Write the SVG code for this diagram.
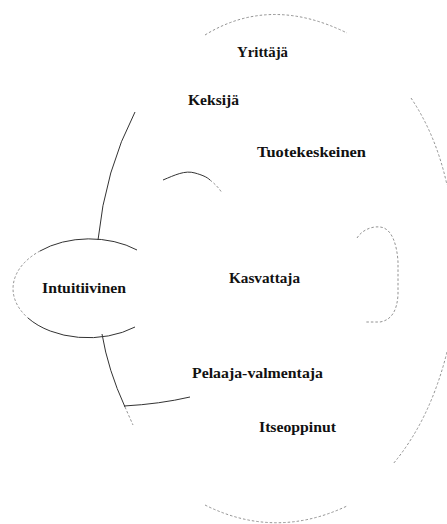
<svg xmlns="http://www.w3.org/2000/svg" width="447" height="524" viewBox="0 0 447 524">
<style>
.lbl{font-family:"Liberation Serif","Times New Roman",serif;font-weight:bold;font-size:15.5px;fill:#111}
.solid{fill:none;stroke:#333;stroke-width:1}
.faint{fill:none;stroke:#777;stroke-width:0.8;stroke-dasharray:2.5 2}
</style>
<rect width="447" height="524" fill="#fff"/>
<g id="outer">
<path class="faint" d="M205,35 Q270,-5 347,33"/>
<path class="faint" d="M411,98 Q436,135 447,185"/>
<path class="faint" d="M447,352 Q430,420 393,464"/>
<path class="faint" d="M205,505 Q275,540 347,506"/>
<path class="solid" d="M135,112 Q105,170 98,240"/>
<path class="solid" d="M102,334 Q108,370 125,407"/>
<path class="faint" d="M125,407 L133,425"/>
</g>
<g id="intuitiivinen">
<path class="solid" d="M137,250 A75,49 0 0 0 40,251"/>
<path class="faint" d="M40,251 A75,49 0 0 0 28,318"/>
<path class="solid" d="M28,318 A75,49 0 0 0 135,327"/>
<text class="lbl" x="42" y="293" textLength="84" lengthAdjust="spacingAndGlyphs">Intuitiivinen</text>
</g>
<g id="connectors">
<path class="solid" d="M163,180 C175,175 185,170 195,173 C202,175 207,177 210,180"/>
<path class="faint" d="M210,180 C215,184 219,188 222,193"/>
<path class="faint" d="M357,238 C362,230 372,226 380,227 C392,228 397,245 398,262 L398,295 C397,310 392,320 380,322 L366,322"/>
<path class="solid" d="M124,406 Q160,404 190,397"/>
</g>
<g id="yrittaja"><text class="lbl" x="237" y="57" textLength="51" lengthAdjust="spacingAndGlyphs">Yrittäjä</text></g>
<g id="keksija"><text class="lbl" x="188" y="105" textLength="51" lengthAdjust="spacingAndGlyphs">Keksijä</text></g>
<g id="tuotekeskeinen"><text class="lbl" x="257" y="157" textLength="109" lengthAdjust="spacingAndGlyphs">Tuotekeskeinen</text></g>
<g id="kasvattaja"><text class="lbl" x="229" y="283" textLength="71" lengthAdjust="spacingAndGlyphs">Kasvattaja</text></g>
<g id="pelaaja-valmentaja"><text class="lbl" x="192" y="378" textLength="131" lengthAdjust="spacingAndGlyphs">Pelaaja-valmentaja</text></g>
<g id="itseoppinut"><text class="lbl" x="259" y="432" textLength="77" lengthAdjust="spacingAndGlyphs">Itseoppinut</text></g>
</svg>
